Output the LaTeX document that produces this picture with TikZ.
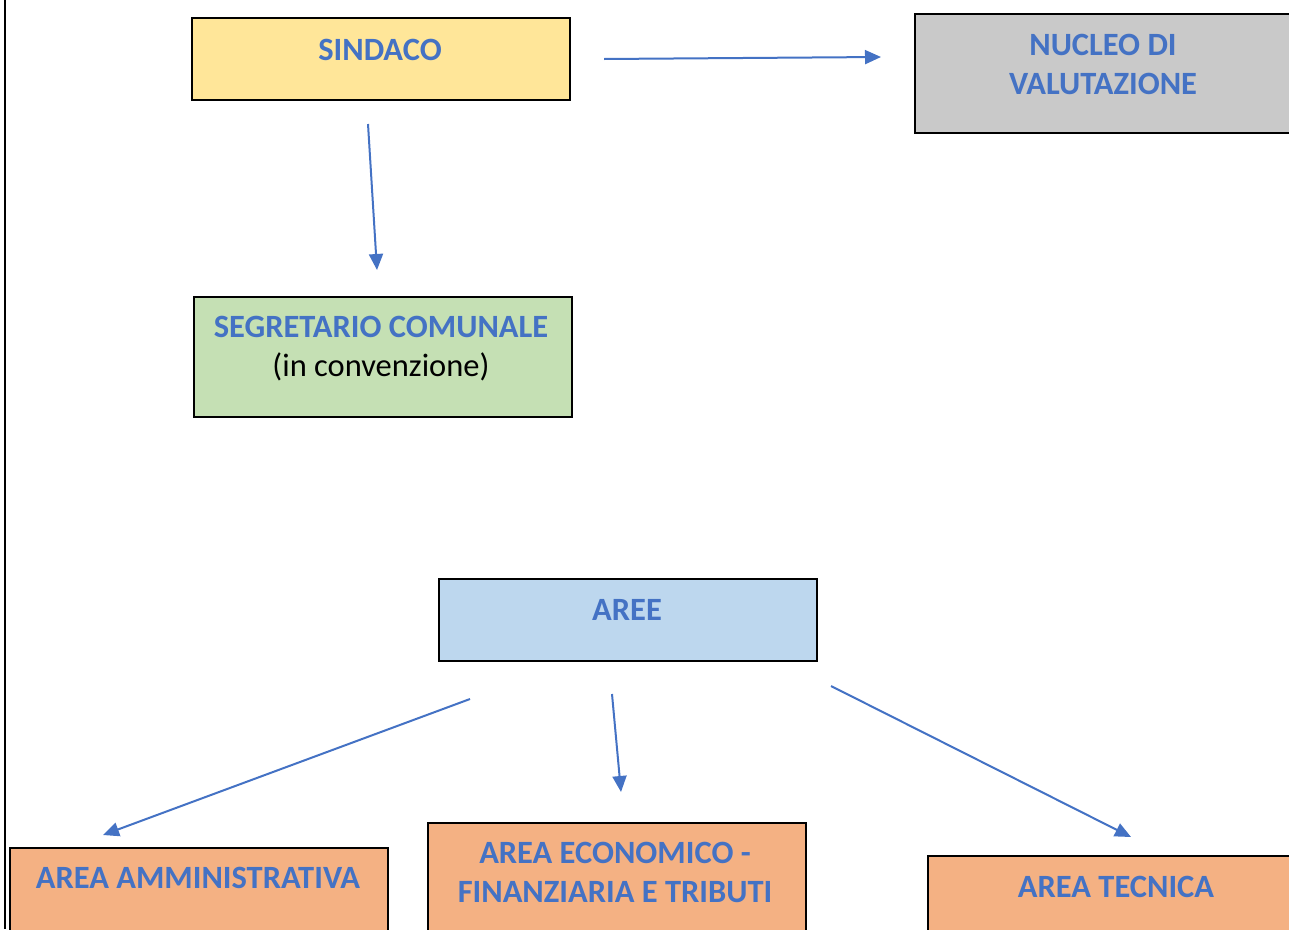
\documentclass[tikz,border=0pt]{standalone}
\usepackage{fontspec}
\setmainfont{Carlito}
\usetikzlibrary{arrows.meta}
\definecolor{txtblue}{HTML}{4472C4}
\definecolor{cyellow}{HTML}{FFE699}
\definecolor{cgrey}{HTML}{C9C9C9}
\definecolor{cgreen}{HTML}{C5E0B4}
\definecolor{clblue}{HTML}{BDD7EE}
\definecolor{corange}{HTML}{F4B183}
\tikzset{
  box/.style={draw=black, line width=2pt, rectangle, anchor=north west, inner sep=0pt, minimum width=378pt},
  lbl/.style={font=\fontsize{32.5}{39}\selectfont\bfseries, text=txtblue, anchor=base, inner sep=0pt, align=center},
  arr/.style={draw=txtblue, line width=2pt, -{Triangle[length=16pt,width=14pt]}}
}
\begin{document}
\begin{tikzpicture}[x=1pt,y=-1pt]
\useasboundingbox (0,0) rectangle (1289,929);
\clip (0,0) rectangle (1289,929);
\draw[line width=2pt] (5,0) -- (5,929);
% boxes
\node[box, fill=cyellow, minimum height=82pt] (sindaco) at (191,17) {};
\node[box, fill=cgrey, minimum height=119pt] (nucleo) at (914,13) {};
\node[box, fill=cgreen, minimum height=120pt] (segr) at (193,296) {};
\node[box, fill=clblue, minimum height=82pt] (aree) at (438,578) {};
\node[box, fill=corange, minimum height=120pt] (amm) at (9,847) {};
\node[box, fill=corange, minimum height=140pt] (eco) at (427,822) {};
\node[box, fill=corange, minimum height=120pt] (tec) at (927,855) {};
% labels
\node[lbl] (tsindaco) at (380,60) {SINDACO};
\node[lbl] (tnucleo1) at (1103,55) {NUCLEO DI};
\node[lbl] (tnucleo2) at (1103,94) {VALUTAZIONE};
\node[lbl] (tsegr1) at (381,337) {SEGRETARIO COMUNALE};
\node[lbl, font=\fontsize{32.5}{39}\selectfont, text=black] (tsegr2) at (381,376) {(in convenzione)};
\node[lbl] (taree) at (627,620) {AREE};
\node[lbl] (tamm) at (198,888) {AREA AMMINISTRATIVA};
\node[lbl] (teco1) at (615,863) {AREA ECONOMICO -};
\node[lbl] (teco2) at (615,902) {FINANZIARIA E TRIBUTI};
\node[lbl] (ttec) at (1116,897) {AREA TECNICA};
% connector ends
\coordinate (s1) at (604,59);
\coordinate (n1) at (881,57);
\coordinate (s2) at (368,124);
\coordinate (g1) at (377,270);
\coordinate (a1) at (470,699);
\coordinate (m1) at (103,835);
\coordinate (a2) at (612,694);
\coordinate (e1) at (621,792);
\coordinate (a3) at (831,686);
\coordinate (t1) at (1131,837);
\draw[arr] (s1) -- (n1);
\draw[arr] (s2) -- (g1);
\draw[arr] (a1) -- (m1);
\draw[arr] (a2) -- (e1);
\draw[arr] (a3) -- (t1);
\end{tikzpicture}
\end{document}
